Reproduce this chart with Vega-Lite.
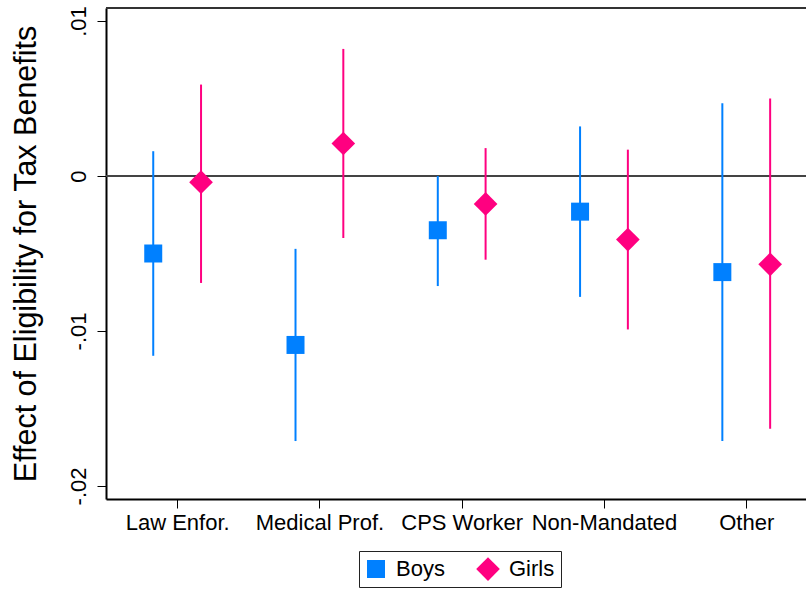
{
  "$schema": "https://vega.github.io/schema/vega-lite/v6.json",
  "width": 700,
  "height": 491,
  "autosize": "none",
  "padding": {"left": 106, "top": 8, "right": 0, "bottom": 90},
  "background": "white",
  "config": {
    "font": "Liberation Sans",
    "view": {"stroke": null},
    "axis": {"grid": false, "domainColor": "#000", "domainWidth": 2, "tickColor": "#000", "tickWidth": 1, "tickSize": 9, "labelColor": "#000", "labelFontSize": 22, "labelFont": "Liberation Sans", "titleColor": "#000", "titleFont": "Liberation Sans", "titleFontWeight": "normal"},
    "legend": {"orient": "none", "legendX": 253, "legendY": 543, "direction": "horizontal", "labelFontSize": 22, "labelFont": "Liberation Sans", "labelColor": "#000", "strokeColor": "#222", "padding": 6, "labelOffset": 9, "columnPadding": 31, "symbolStrokeWidth": 0, "symbolOpacity": 1}
  },
  "data": {
    "values": [
      {"category": "Law Enfor.", "series": "Boys", "xpos": 0.832, "est": -0.0050, "lo": -0.0116, "hi": 0.0016},
      {"category": "Law Enfor.", "series": "Girls", "xpos": 1.168, "est": -0.0004, "lo": -0.0069, "hi": 0.0059},
      {"category": "Medical Prof.", "series": "Boys", "xpos": 1.832, "est": -0.0109, "lo": -0.0171, "hi": -0.0047},
      {"category": "Medical Prof.", "series": "Girls", "xpos": 2.168, "est": 0.0021, "lo": -0.0040, "hi": 0.0082},
      {"category": "CPS Worker", "series": "Boys", "xpos": 2.832, "est": -0.0035, "lo": -0.0071, "hi": 0.0000},
      {"category": "CPS Worker", "series": "Girls", "xpos": 3.168, "est": -0.0018, "lo": -0.0054, "hi": 0.0018},
      {"category": "Non-Mandated", "series": "Boys", "xpos": 3.832, "est": -0.0023, "lo": -0.0078, "hi": 0.0032},
      {"category": "Non-Mandated", "series": "Girls", "xpos": 4.168, "est": -0.0041, "lo": -0.0099, "hi": 0.0017},
      {"category": "Other", "series": "Boys", "xpos": 4.832, "est": -0.0062, "lo": -0.0171, "hi": 0.0047},
      {"category": "Other", "series": "Girls", "xpos": 5.168, "est": -0.0057, "lo": -0.0163, "hi": 0.0050}
    ]
  },
  "layer": [
    {
      "data": {"values": [{"v": 0.01084}]},
      "mark": {"type": "rule", "color": "#333333", "strokeWidth": 2},
      "encoding": {"y": {"field": "v", "type": "quantitative", "scale": {"domain": [-0.02084, 0.01084], "nice": false, "zero": false}}}
    },
    {
      "data": {"values": [{"v": 0}]},
      "mark": {"type": "rule", "color": "#444444", "strokeWidth": 2},
      "encoding": {"y": {"field": "v", "type": "quantitative"}}
    },
    {
      "mark": {"type": "rule", "strokeWidth": 2},
      "encoding": {
        "x": {
          "field": "xpos", "type": "quantitative",
          "scale": {"domain": [0.5, 5.42], "nice": false, "zero": false},
          "axis": {"title": null, "values": [1, 2, 3, 4, 5], "labelExpr": "['', 'Law Enfor.', 'Medical Prof.', 'CPS Worker', 'Non-Mandated', 'Other'][datum.value]", "labelBaseline": "alphabetic", "labelPadding": 21, "labelAlign": "center", "labelFlush": false, "labelOverlap": false}
        },
        "y": {
          "field": "lo", "type": "quantitative",
          "scale": {"domain": [-0.02084, 0.01084], "nice": false, "zero": false},
          "axis": {
            "title": "Effect of Eligibility for Tax Benefits", "titleFontSize": 30.5, "titleAngle": 270, "titleX": -71, "titleY": 245.5, "titleBaseline": "alphabetic", "titleAlign": "center",
            "values": [-0.02, -0.01, 0, 0.01],
            "labelExpr": "datum.value < -0.015 ? '-.02' : datum.value < -0.005 ? '-.01' : datum.value < 0.005 ? '0' : '.01'",
            "labelAngle": 270, "labelAlign": "center", "labelBaseline": "alphabetic", "labelPadding": 12, "labelOverlap": false, "labelFlush": false
          }
        },
        "y2": {"field": "hi"},
        "color": {"field": "series", "type": "nominal", "title": null, "scale": {"domain": ["Boys", "Girls"], "range": ["#0080ff", "#ff0080"]}}
      }
    },
    {
      "mark": {"type": "point", "filled": true, "opacity": 1},
      "encoding": {
        "x": {"field": "xpos", "type": "quantitative"},
        "y": {"field": "est", "type": "quantitative"},
        "color": {"field": "series", "type": "nominal", "title": null},
        "shape": {"field": "series", "type": "nominal", "title": null, "scale": {"domain": ["Boys", "Girls"], "range": ["square", "diamond"]}},
        "size": {"field": "series", "type": "nominal", "title": null, "scale": {"domain": ["Boys", "Girls"], "range": [324, 560]}}
      }
    }
  ]
}
